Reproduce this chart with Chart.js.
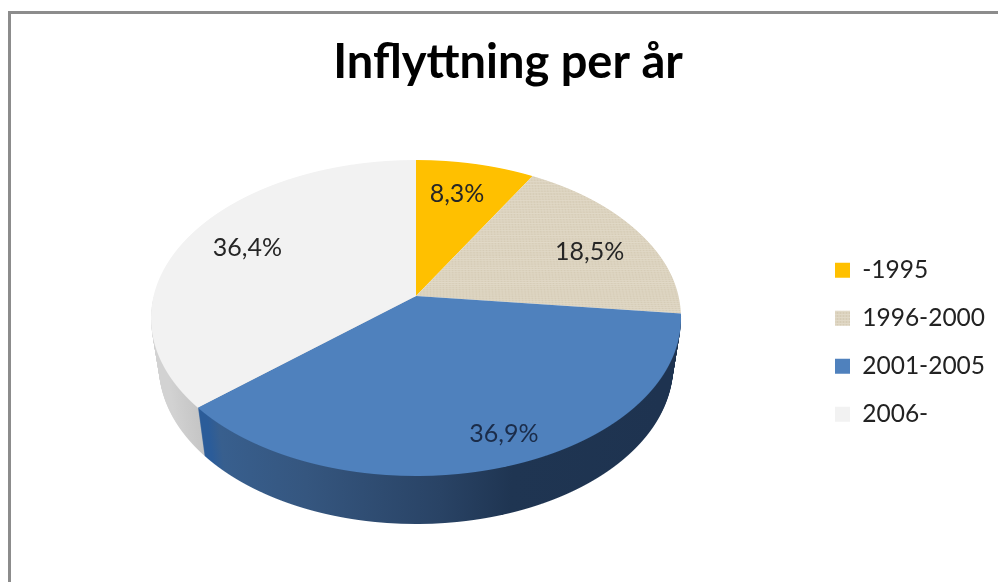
<!DOCTYPE html>
<html>
<head>
<meta charset="utf-8">
<title>Inflyttning per år</title>
<style>
  html, body { margin: 0; background: #fff; overflow: hidden; }
  #frame { position: absolute; left: 8px; top: 11px; right: 0; bottom: 0; border-top: 3px solid #8c8c8c; border-left: 3px solid #8c8c8c; }
  canvas { position: absolute; left: 0; top: 0; }
</style>
<script src="https://cdn.jsdelivr.net/npm/chart.js@4/dist/chart.umd.min.js"></script>
</head>
<body>
<div id="frame"></div>
<canvas id="pie" width="998" height="582"></canvas>
<script>
// ===============================
// 1. DATA
// ===============================
const chartTitle = "Inflyttning per år";
const periods = ["-1995", "1996-2000", "2001-2005", "2006-"];
const shares = [8.3, 18.5, 36.9, 36.4];

// ===============================
// 2. LOOK OF THE FAKE 3D PIE
// ===============================
const CX = 416, CY = 296;          // where the slices meet
const RX = 265;                    // half width of the top face
const UP = 136, DOWN = 180;        // far half is flatter than near half
const DEPTH = 48;                  // height of the side wall
const TAPER = 0.03;                // underside is this much narrower than the top
const FONT = "Lato, 'Open Sans', sans-serif";

// perspective numbers, worked out from the sizes above
const K = (DOWN - UP) / (DOWN + UP);
const A = DOWN * (1 - K);
const B = RX * Math.sqrt(1 - K * K);

// label fine tuning, the original labels were placed by hand
const labelShift = [[-5, 0], [6, 6], [23, 15], [3, -2]];
const labelColors = ["#262626", "#262626", "#1b2c49", "#262626"];

function burlap() {
  const tile = document.createElement("canvas");
  tile.width = 6;
  tile.height = 6;
  const c = tile.getContext("2d");
  c.fillStyle = "#dcd3bf";
  c.fillRect(0, 0, 6, 6);
  c.fillStyle = "#d6ccb6";
  c.fillRect(0, 0, 1, 6);
  c.fillRect(3, 0, 1, 6);
  c.fillStyle = "#e1d9c7";
  c.fillRect(0, 2, 6, 1);
  c.fillRect(0, 5, 6, 1);
  return c.createPattern(tile, "repeat");
}

function project(u, v) {
  const w = 1 / (1 - K * v);
  return [CX + B * u * w, CY + A * v * w];
}

// canvas has no perspective transform, so the arcs are drawn one pixel row at a time
function drawArcs(chart, arcs, drop, firstRow) {
  const ctx = chart.ctx;
  const narrow = 1 - TAPER * drop / DEPTH;
  for (let row = firstRow; row < DOWN + 1; row++) {
    const mid = row + 0.5;
    const v = mid / (A + K * mid);
    const w = 1 / (1 - K * v);
    ctx.save();
    ctx.beginPath();
    ctx.rect(0, CY + drop + row, chart.width, 1);
    ctx.clip();
    arcs.forEach(arc => {
      const R = arc.outerRadius;
      ctx.save();
      ctx.translate(CX, CY + drop + mid);
      ctx.scale(narrow * B * w / R, A * w * w / R);
      ctx.translate(-arc.x, -(arc.y + R * v));
      arc.draw(ctx);
      ctx.restore();
    });
    ctx.restore();
  }
}

function wallFill(ctx, arc, index) {
  // gradient lives in the arc's own space, near edge is magnified about 1.14x
  const toArc = x => arc.x + (x - CX) / (B * 1.14) * arc.outerRadius;
  if (index === 3) {
    const grey = ctx.createLinearGradient(toArc(150), 0, toArc(210), 0);
    grey.addColorStop(0, "#d2d2d2");
    grey.addColorStop(1, "#bfbfbf");
    return grey;
  }
  const blue = ctx.createLinearGradient(toArc(200), 0, toArc(680), 0);
  blue.addColorStop(0, "#2b5c99");
  blue.addColorStop(0.03, "#385f8e");
  blue.addColorStop(0.22, "#35567f");
  blue.addColorStop(0.5, "#294365");
  blue.addColorStop(0.65, "#1f3552");
  blue.addColorStop(1, "#1e3350");
  return blue;
}

const pie3d = {
  id: "pie3d",
  afterLayout(chart) {
    // legend sits where the reference has it, not where the layout wants it
    const legend = chart.legend;
    legend.left = 835 - chart.options.plugins.legend.labels.padding;
    legend.top = 234.5;
  },
  beforeDatasetsDraw(chart) {
    const arcs = chart.getDatasetMeta(0).data;
    [3, 2].forEach(i => {
      const arc = arcs[i];
      const plain = arc.options;
      const wall = Object.create(plain);
      wall.backgroundColor = wallFill(chart.ctx, arc, i);
      wall.borderWidth = 0;
      arc.options = wall;
      for (let d = DEPTH; d >= 1; d--) drawArcs(chart, [arc], d, 0);
      arc.options = plain;
    });
    drawArcs(chart, arcs, 0, -UP - 1);

    const ctx = chart.ctx;
    ctx.save();
    ctx.font = "25px " + FONT;
    ctx.textAlign = "center";
    ctx.textBaseline = "middle";
    arcs.forEach((arc, i) => {
      const mid = (arc.startAngle + arc.endAngle) / 2;
      const [x, y] = project(Math.cos(mid) * 0.75, Math.sin(mid) * 0.75);
      ctx.fillStyle = labelColors[i];
      ctx.fillText(shares[i].toFixed(1).replace(".", ",") + "%", x + labelShift[i][0], y + labelShift[i][1]);
    });
    ctx.restore();
    return false;
  }
};

// ===============================
// 3. CHART
// ===============================
new Chart(document.getElementById("pie"), {
  type: "pie",
  data: {
    labels: periods,
    datasets: [{
      data: shares,
      backgroundColor: ["#ffc000", burlap(), "#4f81bd", "#f2f2f2"],
      borderWidth: 0
    }]
  },
  options: {
    responsive: false,
    animation: false,
    layout: { padding: { left: 18 } },
    plugins: {
      title: {
        display: true,
        text: chartTitle,
        color: "#000",
        font: { family: FONT, size: 47, weight: "bold" },
        padding: { top: 35, bottom: 10 }
      },
      legend: {
        position: "right",
        align: "start",
        labels: {
          boxWidth: 15,
          boxHeight: 15,
          padding: 23.5,
          color: "#222",
          font: { family: FONT, size: 24.5 }
        }
      },
      tooltip: { enabled: false }
    }
  },
  plugins: [pie3d]
});
</script>
</body>
</html>
